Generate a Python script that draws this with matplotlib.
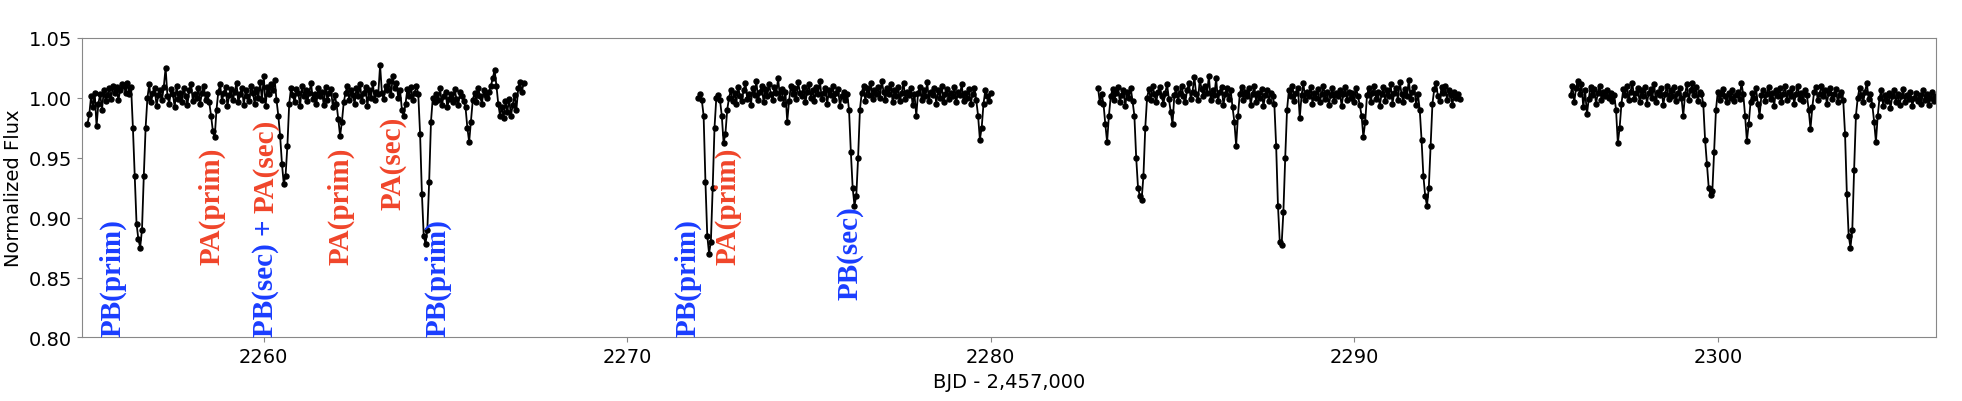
import numpy as np
import matplotlib
matplotlib.use("Agg")
import matplotlib.pyplot as plt

# light curve segments: start time (BJD - 2457000), cadence in days,
# flux in parts per thousand (1000 = 1.000)
cadence = 0.05

seg1_start = 2255.15
seg1_flux = [
    978, 986, 1001, 992, 1004, 976, 995, 1003, 990, 1006, 997, 1002, 1008, 999, 1010, 1004, 1009, 998, 1006, 1011,
    1010, 1004, 1012, 1003, 1009, 975, 935, 895, 882, 875, 890, 935, 975, 1000, 1011, 996, 1004, 1008, 993, 1002,
    1006, 998, 1009, 1025, 1001, 995, 1007, 1003, 992, 1010, 999, 1004, 996, 1008, 1001, 994, 1006, 1011, 997, 1003,
    1000, 1008, 995, 1004, 1010, 998, 1003, 996, 985, 972, 967, 990, 1005, 1011, 997, 1004, 1009, 993, 1002, 1007,
    998, 1005, 1012, 996, 1003, 1008, 994, 1006, 1001, 997, 1010, 1004, 995, 1007, 1000, 1013, 998, 1018, 993, 1009,
    1003, 1011, 1006, 1015, 998, 985, 968, 945, 928, 935, 960, 995, 1008, 1002, 996, 1007, 1004, 993, 1010, 1001,
    1006, 997, 1004, 1012, 999, 1003, 995, 1008, 1001, 1005, 994, 1009, 998, 1004, 1007, 992, 1002, 995, 982, 968,
    980, 996, 1004, 1010, 998, 1006, 1002, 995, 1008, 1001, 1011, 997, 1004, 1009, 993, 1006, 1000, 1012, 998, 1005,
    1003, 1027, 1004, 999, 1010, 1006, 1014, 1002, 1018, 1008, 1012, 1000, 1006, 990, 985, 995, 1007, 1001, 1009, 998,
    1004, 1010, 1003, 970, 920, 885, 878, 890, 930, 980, 1000, 996, 1003, 998, 1008, 994, 1001, 1005, 992, 999,
    1003, 996, 1007, 999, 994, 1005, 1001, 997, 992, 975, 963, 980, 998, 1004, 996, 1008, 1001, 995, 1006, 1002,
    1000, 1005, 1010, 1016, 1023, 1010, 995, 985, 992, 983, 997, 988, 999, 985, 994, 1002, 990, 1008, 1013, 1005,
    1012,
]

seg2_start = 2271.95
seg2_flux = [
    1000, 1003, 998, 985, 930, 885, 870, 880, 925, 975, 1000, 1002, 998, 985, 962, 970, 990, 1000, 1006, 997,
    1004, 995, 1009, 1001, 997, 1006, 1012, 999, 1003, 994, 1008, 1002, 1014, 998, 1005, 1010, 996, 1007, 1001, 1011,
    1003, 998, 1009, 1004, 1016, 1000, 1007, 995, 1005, 980, 997, 1010, 1003, 1008, 999, 1013, 1004, 1001, 1009, 996,
    1005, 1011, 1000, 1006, 997, 1009, 1003, 1014, 999, 1004, 1008, 995, 1006, 1002, 1010, 998, 1004, 1007, 993, 1001,
    1005, 998, 1003, 990, 955, 925, 910, 918, 950, 990, 1004, 1010, 997, 1008, 1002, 1012, 999, 1006, 1003, 1009,
    1000, 1014, 1005, 998, 1008, 1003, 1011, 996, 1006, 1001, 1009, 997, 1004, 1012, 999, 1005, 1002, 1008, 994, 1003,
    985, 1004, 1009, 998, 1006, 1001, 1013, 997, 1005, 1002, 1008, 995, 1006, 1000, 1010, 996, 1003, 1007, 999, 1004,
    1001, 1009, 996, 1005, 1002, 1011, 997, 1004, 1000, 1007, 995, 1003, 1008, 998, 985, 965, 975, 995, 1006, 1001,
    997, 1004,
]

seg3_start = 2282.95
seg3_flux = [
    1008, 996, 1003, 995, 978, 963, 985, 1001, 1007, 998, 1004, 1009, 996, 1002, 1006, 993, 1005, 1000, 1008, 997,
    985, 950, 925, 918, 915, 935, 975, 1000, 1007, 998, 1010, 1003, 996, 1005, 1009, 1001, 995, 1004, 1011, 999,
    988, 978, 1002, 1008, 997, 1004, 1010, 1001, 996, 1006, 1012, 999, 1005, 1017, 1003, 998, 1015, 1007, 1001, 1010,
    1004, 1018, 998, 1006, 1002, 1016, 997, 1005, 1009, 994, 1003, 1008, 999, 1006, 992, 980, 960, 985, 1003, 1009,
    998, 1005, 1001, 1008, 994, 1003, 1010, 996, 1004, 1000, 1007, 993, 1002, 1006, 997, 1004, 1001, 995, 960, 910,
    880, 877, 905, 950, 990, 1006, 1001, 1010, 997, 1004, 1008, 983, 1002, 1012, 998, 1005, 1001, 1009, 995, 1004,
    1000, 1007, 996, 1003, 1010, 999, 1005, 994, 1002, 1008, 997, 1004, 1001, 1006, 993, 1003, 1009, 998, 1005, 1000,
    1004, 996, 1008, 1001, 994, 985, 967, 980, 1002, 1008, 996, 1004, 1010, 999, 1005, 993, 1003, 1009, 997, 1006,
    1001, 1011, 995, 1004, 1008, 998, 1013, 1003, 996, 1007, 1001, 1015, 999, 1005, 1009, 994, 1003, 990, 965, 935,
    918, 910, 925, 960, 995, 1007, 1012, 1001, 997, 1009, 1004, 1010, 998, 1006, 1002, 994, 1005, 1000, 1003, 999,
]

seg4_start = 2295.95
seg4_flux = [
    1002, 1010, 996, 1008, 1014, 1003, 1011, 992, 1006, 986, 999, 1009, 1002, 1007, 995, 1004, 1010, 998, 1005, 1001,
    1006, 1000, 1004, 997, 1002, 990, 962, 975, 995, 1007, 1002, 1010, 998, 1005, 1012, 999, 1004, 1008, 996, 1006,
    1001, 1009, 995, 1004, 1007, 1000, 1011, 996, 1005, 1002, 1008, 994, 1003, 1010, 999, 1006, 1001, 1009, 997, 1004,
    1008, 1000, 985, 1003, 1011, 998, 1006, 1012, 1002, 1009, 997, 1005, 1003, 995, 965, 945, 925, 919, 922, 955,
    990, 1005, 998, 1003, 1007, 1001, 996, 1004, 1000, 1006, 997, 1002, 1005, 999, 1012, 1003, 985, 964, 978, 996,
    1004, 1000, 1008, 995, 985, 1002, 1006, 997, 1003, 1009, 999, 1004, 993, 1006, 1001, 1008, 996, 1003, 1010, 998,
    1005, 1001, 1008, 995, 1003, 1010, 999, 1004, 997, 1006, 1002, 990, 974, 992, 1005, 1009, 998, 1003, 1010, 1001,
    1006, 995, 1004, 1008, 999, 1003, 1007, 996, 1002, 1005, 998, 970, 920, 885, 875, 890, 940, 985, 1000, 1008,
    1002, 996, 1005, 1012, 999, 1003, 994, 980, 963, 985, 1000, 1006, 993, 1002, 997, 1004, 991, 1001, 1006, 996,
    1003, 994, 1001, 1007, 996, 1002, 999, 1005, 993, 1000, 1004, 997, 1002, 995, 1006, 998, 1003, 994, 1000, 1005,
    997, 1001,
]

segments = [(seg1_start, seg1_flux), (seg2_start, seg2_flux),
            (seg3_start, seg3_flux), (seg4_start, seg4_flux)]

# eclipse labels: (text, time, bottom flux, colour key)
labels = [
    ("PB(prim)", 2255.86, 0.801, "B"),
    ("PA(prim)", 2258.58, 0.861, "A"),
    ("PA(prim)", 2262.12, 0.861, "A"),
    ("PA(sec)", 2263.55, 0.907, "A"),
    ("PB(prim)", 2264.80, 0.801, "B"),
    ("PB(prim)", 2271.66, 0.801, "B"),
    ("PA(prim)", 2272.76, 0.861, "A"),
    ("PB(sec)", 2276.12, 0.832, "B"),
]
combo_time = 2260.06

blue = "#1a3dff"
red = "#f0452a"
colors = {"A": red, "B": blue}
serif = dict(family="Liberation Serif", fontweight="bold", fontsize=21, rotation=90)

fig = plt.figure(figsize=(19.62, 4.02), dpi=100)
ax = fig.add_axes([0.0418, 0.158, 0.9449, 0.746])

for start, flux in segments:
    f = np.array(flux) / 1000.0
    t = start + cadence * np.arange(len(f))
    ax.plot(t, f, color="black", marker="o", markersize=3.6, linewidth=1.3)

for text, x, y, key in labels:
    ax.text(x, y, text, color=colors[key], ha="center", va="bottom", **serif)

t1 = ax.text(combo_time, 0.801, "PB(sec) + ", color=blue, ha="center", va="bottom", **serif)
ax.annotate("PA(sec)", xy=(0.5, 1.0), xycoords=t1, color=red,
            ha="center", va="bottom", **serif)

ax.set_xlim(2255, 2306)
ax.set_ylim(0.80, 1.05)
ax.set_xlabel("BJD - 2,457,000", fontsize=14)
ax.set_ylabel("Normalized Flux", fontsize=14)
ax.tick_params(labelsize=14, color="#888888")
for sp in ax.spines.values():
    sp.set_color("#888888")

fig.savefig("out.png", dpi=100)
